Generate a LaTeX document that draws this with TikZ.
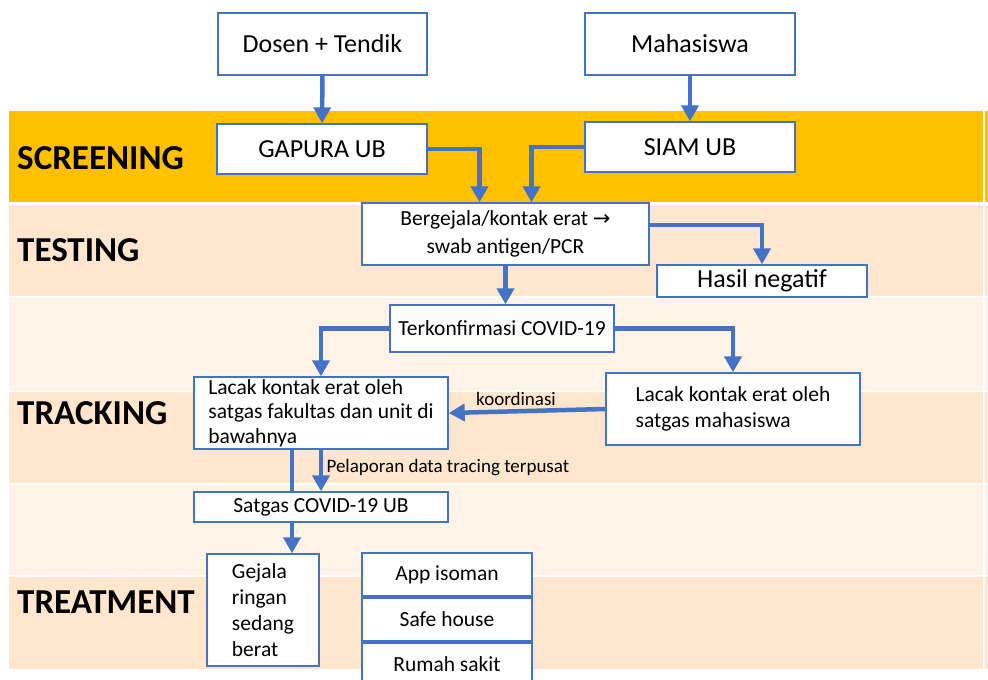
\documentclass[tikz,border=0pt]{standalone}
\usepackage{fontspec}
\setmainfont{Carlito}
\newfontfamily\symfont{DejaVu Sans}
\usetikzlibrary{arrows.meta,positioning,calc}
\definecolor{ubblue}{HTML}{4472C4}
\definecolor{ubgold}{HTML}{FFC000}
\definecolor{peach}{RGB}{255,230,204}
\definecolor{peachlight}{RGB}{255,242,230}

\begin{document}
\begin{tikzpicture}[x=1pt, y=-1pt,
    box/.style={draw=ubblue, line width=1.4pt, fill=white, inner sep=0pt, align=center, font=\fontsize{21.5}{26}\selectfont},
    bigbox/.style={box, font=\fontsize{26}{30}\selectfont},
    leftbox/.style={box, align=left},
    flow/.style={draw=ubblue, line width=4.5pt, -{Triangle[width=17pt,length=16pt]}},
    flowline/.style={draw=ubblue, line width=4.5pt},
    phase/.style={anchor=west, inner sep=0pt, font=\fontsize{35}{40}\selectfont\bfseries},
    note/.style={font=\fontsize{19}{22}\selectfont}]
    \useasboundingbox (0,0) rectangle (988,680);

    % Bands
    \fill[ubgold] (9,111) rectangle (988,202);
    \fill[peach] (9,206) rectangle (988,296);
    \fill[peachlight] (9,298) rectangle (988,390);
    \fill[peach] (9,392) rectangle (988,483);
    \fill[peachlight] (9,485) rectangle (988,575);
    \fill[peach] (9,577) rectangle (988,669);
    \draw[white, line width=1.5pt] (984,111) -- (984,669);

    % Phases
    \node[phase] (screening) at (17,158) {SCREENING};
    \node[phase] (testing) at (17,250) {TESTING};
    \node[phase] (tracking) at (17,413) {TRACKING};
    \node[phase] (treatment) at (17,602) {TREATMENT};

    % Screening
    \node[bigbox, minimum width=209pt, minimum height=62pt] (dosen) at (322.5,44) {Dosen + Tendik};
    \node[bigbox, minimum width=210pt, minimum height=62pt] (mhs) at (690,44) {Mahasiswa};
    \node[bigbox, minimum width=210pt, minimum height=50pt] (gapura) at (322,149) {GAPURA UB};
    \node[bigbox, minimum width=210pt, minimum height=50pt] (siam) at (690,147) {SIAM UB};

    \draw[flow] (dosen) -- (gapura);
    \draw[flow] (mhs) -- (siam);

    % Testing
    \node[box, minimum width=287pt, minimum height=62pt, font=\fontsize{21.5}{28}\selectfont] (swab) at (505.5,234) {Bergejala/kontak erat {\symfont\fontsize{21}{28}\selectfont →}\\swab antigen/PCR};
    \node[bigbox, minimum width=210pt, minimum height=32pt] (negatif) at (762,281) {Hasil negatif};

    \draw[flow] (gapura.east) -| ([xshift=-26pt]swab.north);
    \draw[flow] (siam.west) -| ([xshift=26pt]swab.north);
    \draw[flow] ([yshift=9pt]swab.east) -| (negatif.north);

    % Tracking
    \node[box, minimum width=224pt, minimum height=47pt] (konfirm) at (502,328.5) {Terkonfirmasi COVID-19};
    \node[leftbox, minimum width=254pt, minimum height=72pt, font=\fontsize{21.5}{24.5}\selectfont] (lacakfak) at (321,413) {Lacak kontak erat oleh\\satgas fakultas dan unit di\\bawahnya};
    \node[leftbox, minimum width=254pt, minimum height=72pt] (lacakmhs) at (733,409) {Lacak kontak erat oleh\\satgas mahasiswa};
    \node[box, minimum width=254pt, minimum height=30pt] (satgas) at (321,507) {Satgas COVID-19 UB};

    \draw[flow] (swab.south) -- (swab.south |- konfirm.north);
    \draw[flow] (konfirm.west) -| (lacakfak.north);
    \draw[flow] (konfirm.east) -| (lacakmhs.north);
    \draw[flow] (lacakmhs.west) -- node[note, above, pos=0.57] (koord) {koordinasi} (lacakfak.east);
    \draw[flowline] ([xshift=-29pt]lacakfak.south) -- ([xshift=-29pt]satgas.north);
    \draw[flow] (lacakfak) -- node[note, right, pos=0.42] (lapor) {Pelaporan data tracing terpusat} (satgas);

    % Treatment
    \node[leftbox, minimum width=112pt, minimum height=112pt] (gejala) at (263,610) {Gejala\\ringan\\sedang\\berat};
    \node[box, minimum width=170pt, minimum height=43pt] (isoman) at (447,574.5) {App isoman};
    \node[box, minimum width=170pt, minimum height=43pt] (safehouse) at (447,619.5) {Safe house};
    \node[box, minimum width=170pt, minimum height=43pt] (rs) at (447,664.5) {Rumah sakit};

    \draw[flow] ([xshift=-29pt]satgas.south) -- ([xshift=-29pt]satgas.south |- gejala.north);
\end{tikzpicture}
\end{document}
